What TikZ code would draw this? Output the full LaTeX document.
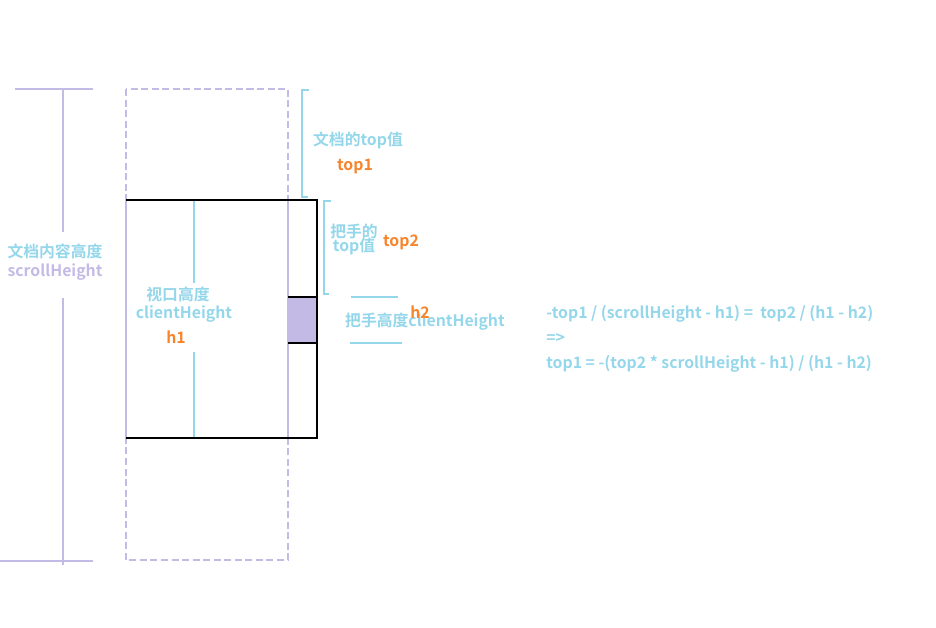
\documentclass[tikz,border=0pt]{standalone}
\usepackage{fontspec}
\setmainfont{Noto Sans CJK SC Bold}
\usepackage{tikz}
\usetikzlibrary{positioning}

\definecolor{azulclaro}{HTML}{94D6EA}
\definecolor{lilas}{HTML}{C4BAE6}
\definecolor{laranja}{HTML}{F7842B}

\begin{document}
\begin{tikzpicture}[x=0.02cm, y=-0.02cm, font=\fontsize{9}{10}\selectfont]
    % Estilos
    \tikzstyle{rotulo} = [inner sep=0pt, text=azulclaro]
    \tikzstyle{valor} = [inner sep=0pt, text=laranja]
    \tikzstyle{cota} = [draw=lilas, line width=0.6pt]
    \tikzstyle{guia} = [draw=azulclaro, line width=0.6pt]
    \tikzstyle{borda} = [draw=black, line width=0.7pt]
    \useasboundingbox (0,0) rectangle (936,627);

    % Pontos
    \coordinate (shA) at (15,89);   \coordinate (shB) at (93,89);
    \coordinate (shC) at (0,561);   \coordinate (shD) at (93,561);
    \coordinate (shE) at (63,89);   \coordinate (shF) at (63,232);
    \coordinate (shG) at (63,298);  \coordinate (shH) at (63,565);
    \coordinate (docA) at (126,89); \coordinate (docB) at (288,560);
    \coordinate (vpA) at (126,200); \coordinate (vpB) at (317,438);
    \coordinate (vpC) at (288,200); \coordinate (vpD) at (288,438);
    \coordinate (vpE) at (126,438); \coordinate (vpF) at (317,200);
    \coordinate (chA) at (194,200); \coordinate (chB) at (194,283);
    \coordinate (chC) at (194,352); \coordinate (chD) at (194,438);
    \coordinate (mA) at (288,297);  \coordinate (mB) at (317,343);
    \coordinate (mC) at (317,297);  \coordinate (mD) at (288,343);
    \coordinate (t1A) at (309,90);  \coordinate (t1B) at (302,90);
    \coordinate (t1C) at (302,197); \coordinate (t1D) at (308,197);
    \coordinate (t2A) at (331,201); \coordinate (t2B) at (324,201);
    \coordinate (t2C) at (324,294); \coordinate (t2D) at (329,294);
    \coordinate (h2A) at (351,297); \coordinate (h2B) at (398,297);
    \coordinate (h2C) at (350,343); \coordinate (h2D) at (402,343);

    % Nós
    \node [rotulo] (altdoc) at (55,251) {文档内容高度};
    \node [rotulo, text=lilas] (scrollh) at (55,272) {scrollHeight};
    \node [rotulo] (viewport) at (178,294) {视口高度};
    \node [rotulo] (clienth) at (184,314) {clientHeight};
    \node [valor] (hum) at (176,337) {h1};
    \node [rotulo] (topdoc) at (358,140) {文档的top值};
    \node [valor] (topum) at (355,166) {top1};
    \node [rotulo] (pegador) at (354,231) {把手的};
    \node [rotulo] (topval) at (354,246) {top值};
    \node [valor] (topdois) at (401,242) {top2};
    \node [rotulo] (altpeg) at (425,322) {把手高度clientHeight};
    \node [valor] (hdois) at (420,312) {h2};
    \node [rotulo, anchor=west] (eqA) at (546,314) {-top1 / (scrollHeight - h1) = \ top2 / (h1 - h2)};
    \node [rotulo, anchor=west] (eqB) at (546,339) {=>};
    \node [rotulo, anchor=west] (eqC) at (546,364) {top1 = -(top2 * scrollHeight - h1) / (h1 - h2)};

    % Conexões
    \path [cota] (shA) -- (shB);
    \path [cota] (shC) -- (shD);
    \path [cota] (shE) -- (shF);
    \path [cota] (shG) -- (shH);
    \path [cota, dash pattern=on 4pt off 2pt] (docA) rectangle (docB);
    \fill [lilas] (mA) rectangle (mB);
    \path [cota] (vpA) -- (vpE);
    \path [cota] (vpC) -- (vpD);
    \path [guia] (chA) -- (chB);
    \path [guia] (chC) -- (chD);
    \path [borda] (vpA) -- (vpF) -- (vpB) -- (vpE);
    \path [borda] (mA) -- (mC);
    \path [borda] (mD) -- (mB);
    \path [guia] (t1A) -- (t1B) -- (t1C) -- (t1D);
    \path [guia] (t2A) -- (t2B) -- (t2C) -- (t2D);
    \path [guia] (h2A) -- (h2B);
    \path [guia] (h2C) -- (h2D);
\end{tikzpicture}
\end{document}
